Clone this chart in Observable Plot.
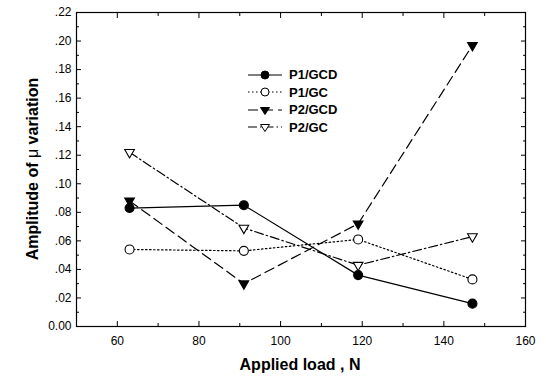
<!DOCTYPE html>
<html><head><meta charset="utf-8">
<script src="https://cdn.jsdelivr.net/npm/d3@7"></script>
<script src="https://cdn.jsdelivr.net/npm/@observablehq/plot@0.6"></script>
<style>
body{margin:0;background:#fff;font-family:"Liberation Sans",Arial,sans-serif;}
#wrap{position:relative;width:546px;height:382px;}
#legend{position:absolute;left:247px;top:66px;font:bold 13px "Liberation Sans",Arial,sans-serif;}
#legend div{display:flex;align-items:center;height:17.5px;}
#legend span{margin-left:6px;}
</style></head>
<body><div id="wrap"><div id="legend"></div></div>
<script>
const loads = [63, 91, 119, 147];
const p1gcd = [0.083, 0.085, 0.036, 0.016];
const p1gc  = [0.054, 0.053, 0.061, 0.033];
const p2gcd = [0.088, 0.030, 0.072, 0.197];
const p2gc  = [0.122, 0.069, 0.043, 0.063];
const seriesNames = ["P1/GCD", "P1/GC", "P2/GCD", "P2/GC"];
const yTicks = [0,0.02,0.04,0.06,0.08,0.10,0.12,0.14,0.16,0.18,0.20,0.22];
const yMinor = [0.01,0.03,0.05,0.07,0.09,0.11,0.13,0.15,0.17,0.19,0.21];
const xTicks = [60,80,100,120,140,160];
const xMinor = [70,90,110,130,150];

const styles = {
  "P1/GCD": {dash: null, symbol: "circle", fill: "black", rotate: 0, r: 4.5},
  "P1/GC":  {dash: "1.5,2.5", symbol: "circle", fill: "white", rotate: 0, r: 4.5},
  "P2/GCD": {dash: "10,5", symbol: "triangle", fill: "black", rotate: 180, r: 3.6},
  "P2/GC":  {dash: "9,3,1.5,3", symbol: "triangle", fill: "white", rotate: 180, r: 3.6}
};
const vals = [p1gcd, p1gc, p2gcd, p2gc];
const data = seriesNames.map((name, i) => loads.map((x, j) => ({name, x, y: vals[i][j]})));

const fmt = d => d === 0 ? "0.00" : d.toFixed(2).replace(/^0/, "");
const marks = [Plot.frame({stroke: "black", strokeWidth: 1.2})];
for (const side of ["left","right"]) {
  marks.push(Plot.axisY(yTicks, {anchor: side, tickSize: -5, text: null, label: null, strokeWidth: 1}));
  marks.push(Plot.axisY(yMinor, {anchor: side, tickSize: -3, text: null, label: null, strokeWidth: 1}));
}
for (const side of ["bottom","top"]) {
  marks.push(Plot.axisX(xTicks, {anchor: side, tickSize: -5, text: null, label: null, strokeWidth: 1}));
  marks.push(Plot.axisX(xMinor, {anchor: side, tickSize: -3, text: null, label: null, strokeWidth: 1}));
}
marks.push(Plot.axisY(yTicks, {anchor: "left", tickSize: 0, tickPadding: 5, tickFormat: fmt, fontSize: 12, fill: "black", label: null}));
marks.push(Plot.axisX(xTicks, {anchor: "bottom", tickSize: 0, tickPadding: 10, fontSize: 12, fill: "black", label: null}));
data.forEach(d => {
  const s = styles[d[0].name];
  marks.push(Plot.line(d, {x: "x", y: "y", stroke: "black", strokeWidth: 1.2, strokeDasharray: s.dash}));
});
data.forEach(d => {
  const s = styles[d[0].name];
  marks.push(Plot.dot(d, {x: "x", y: "y", symbol: s.symbol, r: s.r, fill: s.fill, stroke: "black", strokeWidth: 1.1, rotate: s.rotate}));
});

const chart = Plot.plot({
  width: 546, height: 382,
  marginLeft: 76, marginRight: 21, marginTop: 12, marginBottom: 56,
  x: {domain: [50, 160]},
  y: {domain: [0, 0.22]},
  style: {fontFamily: "'Liberation Sans', Arial, sans-serif", color: "black", background: "white"},
  marks
});
document.getElementById("wrap").prepend(chart);

// axis titles
const svg = d3.select(chart);
svg.append("text").attr("x", 300).attr("y", 370).attr("text-anchor", "middle")
  .attr("font-size", 16).attr("font-weight", "bold").text("Applied load , N");
const yt = svg.append("text").attr("transform", "translate(38,169) rotate(-90)")
  .attr("text-anchor", "middle").attr("font-size", 16).attr("font-weight", "bold");
yt.append("tspan").text("Amplitude of ");
yt.append("tspan").attr("font-weight", "normal").text("μ");
yt.append("tspan").text(" variation");

// legend
const leg = d3.select("#legend");
seriesNames.forEach(name => {
  const s = styles[name];
  const row = leg.append("div");
  const sv = row.append("svg").attr("width", 36).attr("height", 12);
  sv.append("line").attr("x1", 1).attr("x2", 35).attr("y1", 6).attr("y2", 6)
    .attr("stroke", "black").attr("stroke-width", 1.2).attr("stroke-dasharray", s.dash);
  if (s.symbol === "circle") sv.append("circle").attr("cx", 18).attr("cy", 6).attr("r", 4).attr("fill", s.fill).attr("stroke", "black");
  else sv.append("path").attr("d", "M13.5,3.5L22.5,3.5L18,10.5Z").attr("fill", s.fill).attr("stroke", "black");
  row.append("span").text(name);
});
</script></body></html>
